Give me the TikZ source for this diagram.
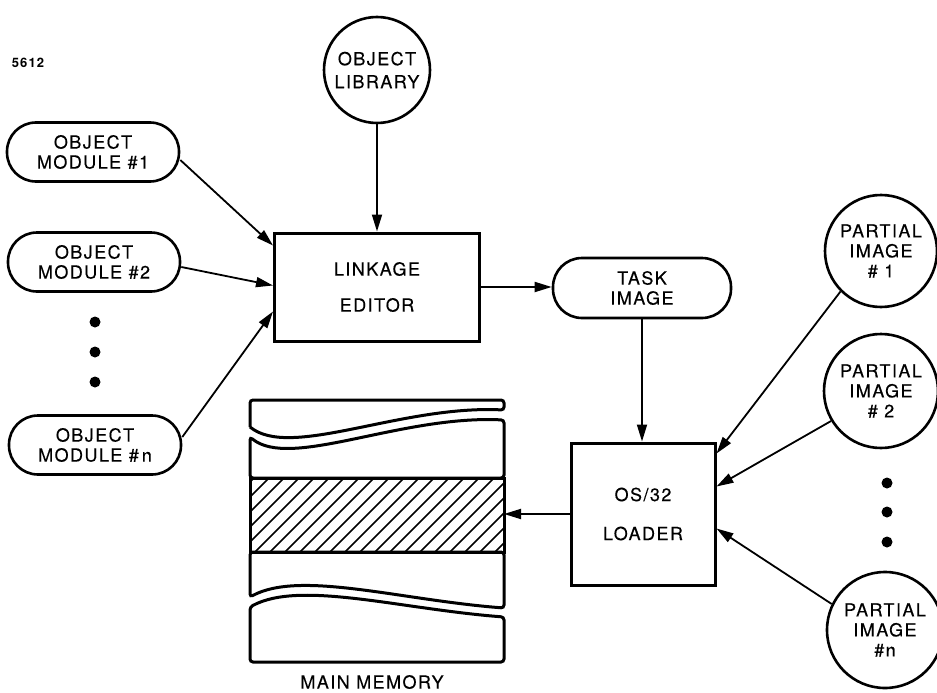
\documentclass[tikz,border=0pt]{standalone}
\usepackage{fontspec}
\setmainfont{TeX Gyre Heros}[LetterSpace=8,UprightFeatures={FakeBold=0.3}]
\usetikzlibrary{calc,arrows.meta}

\begin{document}
\begin{tikzpicture}
[x=1pt,y=-1pt,>={Triangle[length=17pt,width=10pt]},
 every node/.style={font=\fontsize{18}{20}\selectfont,align=center,inner sep=0pt},
 pill/.style={draw,line width=2.6pt,rounded corners=29pt,minimum width=172pt,minimum height=59pt},
 blob/.style={draw,circle,line width=2.6pt},
 block/.style={draw,line width=3pt},
 link/.style={->,line width=1.8pt},
 dot/.style={circle,fill=black,minimum size=11pt}]

\useasboundingbox (0,0) rectangle (937,693);

% the coordinates of the nodes
\coordinate (m1) at (93,152);
\coordinate (m2) at (94,262);
\coordinate (mn) at (95,445);
\coordinate (lib) at (377,70);
\coordinate (le) at (377,287);
\coordinate (ti) at (642,288);
\coordinate (ld) at (643,514);
\coordinate (p1) at (881,251);
\coordinate (p2) at (881,391);
\coordinate (pn) at (885,630);
\coordinate (memR) at (504,513);

% the object modules
\node[pill] (M1) at (m1) {OBJECT\\MODULE \#1};
\node[pill] (M2) at (m2) {OBJECT\\MODULE \#2};
\node[pill] (Mn) at (mn) {OBJECT\\MODULE \#\,n};
\node[dot] (d1) at (95,322) {};
\node[dot] (d2) at (95,352) {};
\node[dot] (d3) at (95,382) {};

% the library, the editor and the task image
\node[blob,minimum size=106pt] (LIB) at (lib) {OBJECT\\[3pt]LIBRARY};
\node[block,minimum width=205pt,minimum height=108pt] (LE) at (le) {LINKAGE\\[16pt]EDITOR};
\node[pill,minimum width=178pt,minimum height=60pt] (TI) at (ti) {TASK\\IMAGE};

% the loader
\node[block,minimum width=144pt,minimum height=142pt] (LD) at (ld) {OS/32\\[19pt]LOADER};

% the partial images
\node[blob,minimum size=112pt] (P1) at (p1) {PARTIAL\\IMAGE\\\# 1};
\node[blob,minimum size=114pt] (P2) at (p2) {PARTIAL\\IMAGE\\\# 2};
\node[blob,minimum size=116pt] (Pn) at (pn) {PARTIAL\\IMAGE\\\#n};
\node[dot] (e1) at (887,483) {};
\node[dot] (e2) at (887,512) {};
\node[dot] (e3) at (887,542) {};

% the main memory
\draw[block,rounded corners=3pt] (250,427) -- (250,400) -- (504,400) -- (504,410)
  .. controls (400,405) and (290,460) .. (250,427);
\draw[block,rounded corners=3pt] (250,437) .. controls (290,470) and (400,415) .. (504,420)
  -- (504,478) -- (250,478) -- cycle;
\draw[block] (250,478) rectangle (504,552);
\begin{scope}
\clip (250,478) rectangle (504,552);
\foreach \x in {254,269,...,584}
  \draw[line width=1.5pt] (\x,478) -- ++(-74,74);
\end{scope}
\draw[block,rounded corners=3pt] (250,552) -- (504,552) -- (504,608)
  .. controls (400,600) and (300,570) .. (250,597) -- cycle;
\draw[block,rounded corners=3pt] (250,607) .. controls (300,580) and (400,609) .. (504,617)
  -- (504,662) -- (250,662) -- cycle;
\node (MM) at (372,682) {MAIN MEMORY};

% the labels
\node[font=\bfseries\fontsize{13}{15}\selectfont] (fig) at (28,63) {5612};

% the arrows
\draw[link] ($(M1.east)+(0,8)$) -- ($(LE.north west)+(0,14)$);
\draw[link] ($(M2.east)+(0,5)$) -- ($(LE.north west)+(0,54)$);
\draw[link] ($(Mn.east)+(0,-8)$) -- ($(LE.north west)+(0,80)$);
\draw[link] (LIB.south) -- (LE.north);
\draw[link] (LE.east) -- (LE.east -| TI.west);
\draw[link] (TI.south) -- (TI.south |- LD.north);
\draw[link] (LD.west) -- (LD.west -| memR);
\draw[link] (P1.225) -- ($(LD.north east)+(0,12)$);
\draw[link] (P2.211) -- ($(LD.north east)+(0,45)$);
\draw[link] (Pn.154) -- ($(LD.north east)+(0,87)$);

\end{tikzpicture}
\end{document}
